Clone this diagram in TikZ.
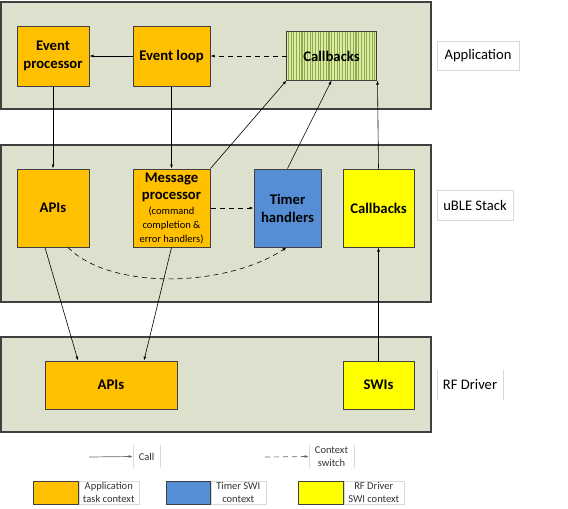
\documentclass[tikz,border=0pt]{standalone}
\usepackage{fontspec}
\setmainfont{Carlito}
\usetikzlibrary{arrows.meta,calc}
\definecolor{panel}{HTML}{DDE0CD}
\definecolor{orng}{HTML}{FFC000}
\definecolor{blu}{HTML}{558ED5}
\definecolor{yel}{HTML}{FFFF00}
\definecolor{hatchL}{HTML}{DCEAA6}
\definecolor{hatchD}{HTML}{8CAE48}
\definecolor{edgegray}{HTML}{404040}
\definecolor{lblgray}{HTML}{D9D9D9}
\begin{document}
\begin{tikzpicture}[x=1pt,y=-1pt,
  panelbox/.style={draw=edgegray,fill=panel,line width=1.1pt},
  comp/.style={draw=edgegray,line width=1pt,rectangle,inner sep=0pt,align=center,font=\bfseries\fontsize{14.7}{18}\selectfont},
  lbl/.style={rectangle,draw=lblgray,line width=0.5pt,inner sep=0pt,align=center,font=\fontsize{14.6}{17}\selectfont},
  lblv/.style={rectangle,inner sep=0pt,align=center,font=\fontsize{14.6}{17}\selectfont},
  leglbl/.style={rectangle,draw=lblgray,line width=0.5pt,inner sep=0pt,align=center,text=black!80,font=\fontsize{10.5}{12.5}\selectfont},
  legbox/.style={rectangle,draw=edgegray,line width=1pt,inner sep=0pt},
  arr/.style={-{Latex[length=4pt,width=3pt]},line width=0.6pt},
  darr/.style={arr,dashed,dash pattern=on 5pt off 4pt},
  garr/.style={-{Latex[length=4pt,width=3pt]},line width=0.7pt,draw=black!60},
]
\useasboundingbox (0,0) rectangle (568,509);
% panels
\draw[panelbox] (1,2) rectangle (431,109);
\draw[panelbox] (1,145) rectangle (431,302);
\draw[panelbox] (1,337) rectangle (431,432);

% application layer
\node[comp,fill=orng,minimum width=72pt,minimum height=60pt] (ep) at (53,56) {Event\\processor};
\node[comp,fill=orng,minimum width=77pt,minimum height=60pt] (el) at (171.5,56) {Event loop};
\node[comp,draw=none,fill=hatchL,minimum width=89pt,minimum height=48pt] (cba) at (331.5,56) {};
\begin{scope}
\clip (cba.south west) rectangle (cba.north east);
\foreach \i in {0,...,33} {
  \draw[hatchD,line width=1.1pt] (288.5+\i*2.7,30) -- (288.5+\i*2.7,82);
}
\end{scope}
\draw[edgegray,line width=1pt] (cba.south west) rectangle (cba.north east);
\node[font=\bfseries\fontsize{14.7}{18}\selectfont] (cbat) at (cba.center) {Callbacks};

% stack layer
\node[comp,fill=orng,minimum width=72pt,minimum height=78pt] (apis) at (53,208) {APIs};
\node[comp,fill=orng,minimum width=77pt,minimum height=78pt] (mp) at (171.5,208) {Message\\[-1pt]processor\\[-3pt]{\mdseries\fontsize{10.5}{13}\selectfont (command}\\[-4pt]{\mdseries\fontsize{10.5}{13}\selectfont completion \&}\\[-4pt]{\mdseries\fontsize{10.5}{13}\selectfont error handlers)}};
\node[comp,fill=blu,minimum width=67pt,minimum height=78pt] (th) at (287.5,208) {Timer\\handlers};
\node[comp,fill=yel,minimum width=71pt,minimum height=78pt] (cby) at (378.5,208) {Callbacks};

% rf driver layer
\node[comp,fill=orng,minimum width=132pt,minimum height=48pt] (rf) at (111,385) {APIs};
\node[comp,fill=yel,minimum width=71pt,minimum height=48pt] (swi) at (378.5,385) {SWIs};

% layer labels
\node[lbl,minimum width=82pt,minimum height=29pt] (lapp) at (478,55.5) {Application};
\node[lbl,minimum width=76pt,minimum height=30pt] (lstk) at (475,205) {uBLE Stack};
\node[lblv,minimum width=66pt,minimum height=30pt] (lrf) at (470,385) {RF Driver};
\draw[lblgray,line width=0.5pt] (lrf.north west) -- (lrf.south west) (lrf.north east) -- (lrf.south east);

% connectors
\draw[arr] (el.west) -- (ep.east);
\draw[darr] (cba.west) -- (el.east);
\draw[arr] (ep.south) -- (apis.north);
\draw[arr] (el.south) -- (mp.north);
\draw[arr] (mp.north east) -- (cba.south west);
\draw[arr] (th.north) -- (cba.south);
\draw[arr] (cby.north) -- ([xshift=1pt]cba.south east);
\draw[arr] (swi.north) -- (cby.south);
\draw[darr] (mp.east) -- (th.west);
\draw[darr] ([xshift=15pt]apis.south) .. controls (110,290) and (225,288) .. ([xshift=-1pt]th.south);
\draw[arr] ([xshift=-8pt]apis.south) -- ([xshift=-33pt]rf.north);
\draw[arr] (mp.south) -- ([xshift=33pt]rf.north);

% legend
\node[leglbl,draw=none,minimum width=27pt,minimum height=23pt] (lcall) at (146.5,456.5) {Call};
\draw[lblgray,line width=0.5pt] (lcall.north west) -- (lcall.south west) (lcall.north east) -- (lcall.south east);
\coordinate (ca) at (89,457);
\draw[garr] (ca) -- (lcall.west);
\node[leglbl,draw=none,minimum width=45pt,minimum height=23pt] (lctx) at (331.5,456.5) {Context\\switch};
\draw[lblgray,line width=0.5pt] (lctx.north west) -- (lctx.south west) (lctx.north east) -- (lctx.south east);
\coordinate (cs) at (265,457);
\draw[garr,dashed,dash pattern=on 5pt off 4pt] (cs) -- (lctx.west);

\node[legbox,fill=orng,minimum width=45pt,minimum height=23pt] (lg1) at (55.5,492.5) {};
\node[leglbl,minimum width=60pt,minimum height=23pt,anchor=west] (lg1t) at (lg1.east) {Application\\task context};
\node[legbox,fill=blu,minimum width=44pt,minimum height=23pt] (lg2) at (188,492.5) {};
\node[leglbl,minimum width=55pt,minimum height=23pt,anchor=west] (lg2t) at (lg2.east) {Timer SWI\\context};
\node[legbox,fill=yel,minimum width=45pt,minimum height=23pt] (lg3) at (320.5,492.5) {};
\node[leglbl,minimum width=60pt,minimum height=23pt,anchor=west] (lg3t) at (lg3.east) {RF Driver\\SWI context};
\end{tikzpicture}
\end{document}
